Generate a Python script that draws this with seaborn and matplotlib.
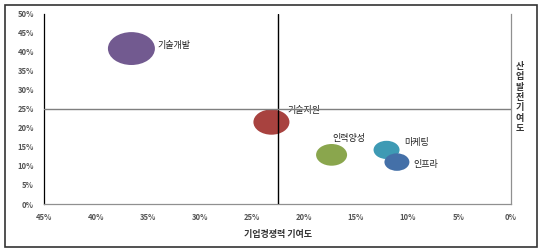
import numpy as np
import pandas as pd
import matplotlib
matplotlib.use("Agg")
import matplotlib.pyplot as plt
from matplotlib.path import Path
from matplotlib.patches import Rectangle
import seaborn as sns

# Chart data
names = ["기술개발", "기술지원", "인력양성", "마케팅", "인프라"]
competitiveness = [36.6, 23.1, 17.3, 12.0, 11.0]   # 기업경쟁력 기여도 (%)
industry = [40.8, 21.5, 12.9, 14.2, 11.0]          # 산업발전 기여도 (%)
bubble = [34.0, 20.0, 14.8, 10.4, 9.6]             # bubble weight
colors = ["#725A90", "#A8423F", "#8AA64D", "#3E9AB4", "#4470A8"]
x_ticks = [45, 40, 35, 30, 25, 20, 15, 10, 5, 0]
y_ticks = [0, 5, 10, 15, 20, 25, 30, 35, 40, 45, 50]
x_cross = 22.5
y_cross = 25

df = pd.DataFrame({"name": names, "x": competitiveness, "y": industry, "size": bubble})

sns.set_style("white")
plt.rcParams["font.family"] = ["Noto Sans CJK KR", "DejaVu Sans"]

fig = plt.figure(figsize=(5.38, 2.49), dpi=100)
ax = fig.add_axes([44.3 / 538, 1 - 204 / 249, (511 - 44.3) / 538, (204 - 13.5) / 249])

# stretched bubble marker (the reference bubbles are ellipses)
circle = Path.unit_circle()
ellipse = Path(circle.vertices * np.array([1.0, 0.7]), circle.codes)

sns.scatterplot(data=df, x="x", y="y", hue="name", palette=colors,
                size="size", sizes=(0, 1145), size_norm=(0, max(bubble)),
                marker=ellipse, linewidth=0, legend=False, ax=ax, zorder=2)

ax.axvline(x_cross, color="black", linewidth=1, zorder=4)
ax.axhline(y_cross, color="#7f7f7f", linewidth=1, zorder=4)

# labels next to bubbles
offsets = {"기술개발": (18.5, 2), "기술지원": (11.5, 8.5), "인력양성": (0.5, 12),
           "마케팅": (13, 5), "인프라": (12, -1.5)}
for n, xv, yv in zip(names, competitiveness, industry):
    ax.annotate(n, (xv, yv), xytext=offsets[n], textcoords="offset points",
                ha="left", va="center", fontsize=6.5, color="#222222", zorder=3)

ax.set_xlim(45, 0)
ax.set_ylim(0, 50)
ax.set_xticks(x_ticks)
ax.set_xticklabels([f"{v}%" for v in x_ticks])
ax.set_yticks(y_ticks)
ax.set_yticklabels([f"{v}%" for v in y_ticks])
ax.tick_params(axis="both", labelsize=5.5, labelcolor="#555555", colors="#555555",
               length=2.5, width=0.8, direction="out")
ax.tick_params(axis="x", pad=4)
ax.tick_params(axis="y", pad=5)
for lab in ax.get_xticklabels() + ax.get_yticklabels():
    lab.set_fontweight("bold")

ax.spines["top"].set_visible(False)
ax.spines["left"].set_color("black")
ax.spines["bottom"].set_color("#909090")
ax.spines["right"].set_color("#909090")
for s in ax.spines.values():
    s.set_linewidth(0.9)

ax.set_xlabel("기업경쟁력 기여도", fontsize=6.5, fontweight="bold", color="#333333", labelpad=5.5)
ax.set_ylabel("")
fig.text(520 / 538, 1 - 97.5 / 249, "\n".join("산업발전기여도"), ha="center", va="center",
         fontsize=6.5, fontweight="bold", color="#333333", linespacing=1.2)

# outer frame
fig.patches.append(Rectangle((4.5 / 538, 2.5 / 249), 532 / 538, 241.5 / 249,
                             transform=fig.transFigure, fill=False,
                             edgecolor="#333333", linewidth=1.2))

fig.savefig("out.png", dpi=100)
